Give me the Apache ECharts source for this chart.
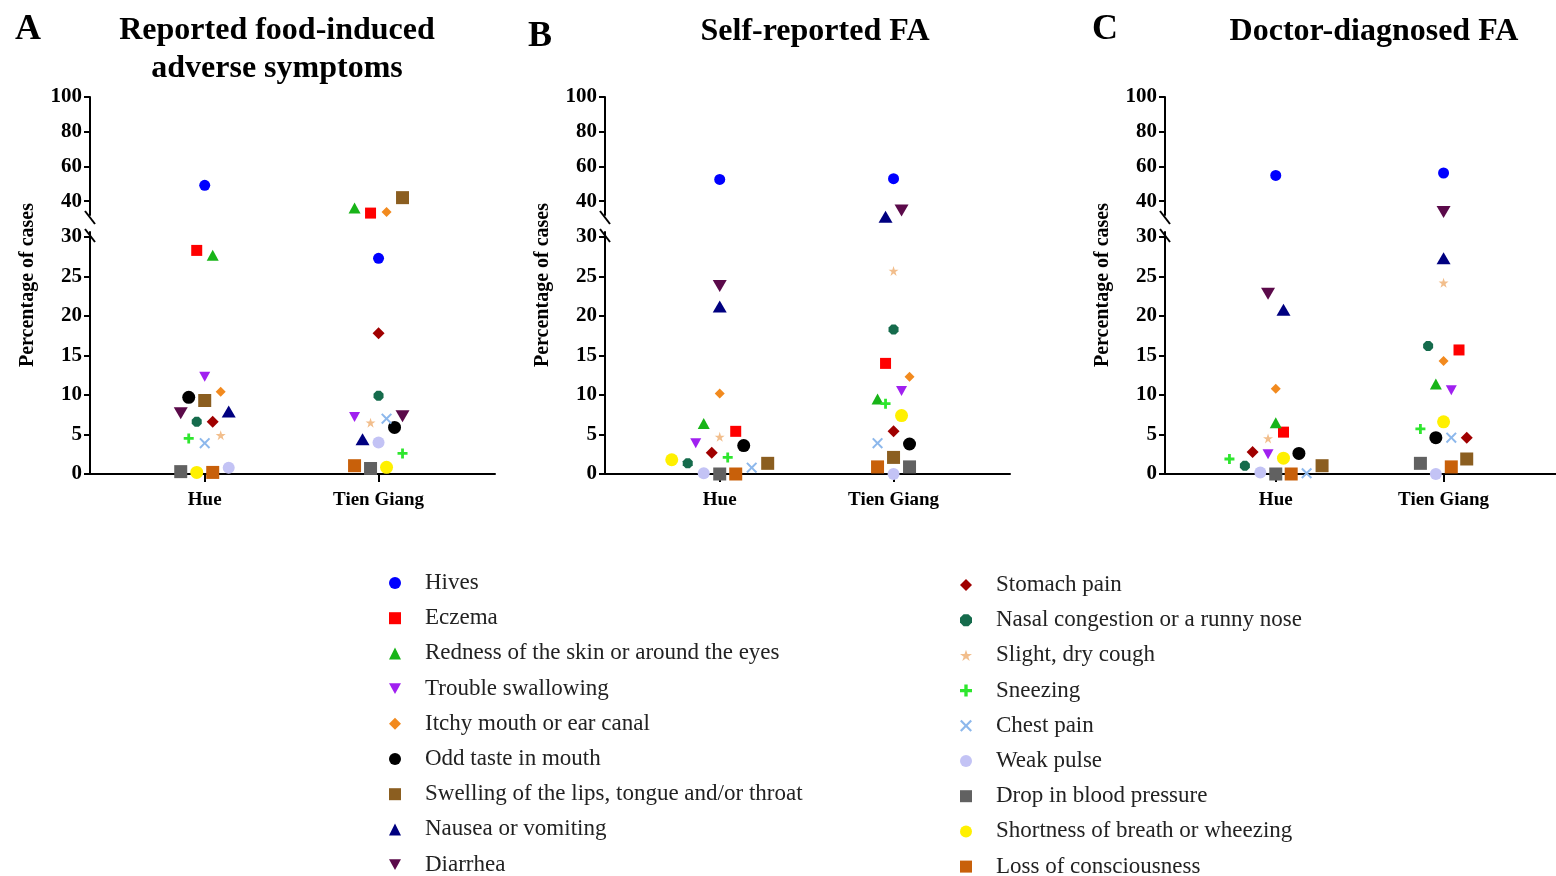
<!DOCTYPE html>
<html><head><meta charset="utf-8">
<script src="https://cdn.jsdelivr.net/npm/echarts@6/dist/echarts.min.js"></script>
<style>html,body{margin:0;padding:0;background:#fff}#c{width:1556px;height:876px}</style>
</head><body><div id="c"></div>
<script>
// ---------------- DATA ----------------
const sites = ['Hue', 'Tien Giang'];
const symptoms = [
  'Hives', 'Eczema', 'Redness of the skin or around the eyes', 'Trouble swallowing',
  'Itchy mouth or ear canal', 'Odd taste in mouth', 'Swelling of the lips, tongue and/or throat',
  'Nausea or vomiting', 'Diarrhea', 'Stomach pain', 'Nasal congestion or a runny nose',
  'Slight, dry cough', 'Sneezing', 'Chest pain', 'Weak pulse', 'Drop in blood pressure',
  'Shortness of breath or wheezing', 'Loss of consciousness'
];
const panelLetters = ['A', 'B', 'C'];
const panelTitles = ['Reported food-induced\nadverse symptoms', 'Self-reported FA', 'Doctor-diagnosed FA'];
const yAxisTitle = 'Percentage of cases';
const upperTicks = [40, 60, 80, 100];
const lowerTicks = [0, 5, 10, 15, 20, 25, 30];

// Percentage of cases, in symptom order
const reportedHue       = [49.1, 28.3, 27.7, 12.3, 10.4, 9.7, 9.3, 7.9, 7.7, 6.6, 6.6, 4.9, 4.5, 3.9, 0.8, 0.3, 0.2, 0.2];
const reportedTienGiang = [27.3, 33.1, 36.0, 7.2, 33.7, 5.9, 42.0, 4.4, 7.3, 17.8, 9.9, 6.5, 2.6, 7.0, 4.0, 0.7, 0.85, 1.05];
const selfHue           = [52.5, 5.4, 6.4, 3.9, 10.2, 3.6, 1.35, 21.2, 23.8, 2.7, 1.35, 4.7, 2.1, 0.8, 0.1, 0.0, 1.8, 0.0];
const selfTienGiang     = [52.9, 14.0, 9.5, 10.5, 12.3, 3.8, 2.1, 31.0, 34.6, 5.4, 18.3, 25.7, 8.9, 3.9, 0.0, 0.9, 7.4, 0.9];
const doctorHue         = [54.8, 5.3, 6.5, 2.5, 10.8, 2.6, 1.05, 20.8, 22.8, 2.8, 1.05, 4.5, 1.9, 0.1, 0.2, 0.0, 2.0, 0.0];
const doctorTienGiang   = [56.2, 15.7, 11.4, 10.6, 14.3, 4.6, 1.9, 27.3, 33.7, 4.6, 16.2, 24.2, 5.7, 4.6, 0.0, 1.35, 6.6, 0.9];

// ---------------- LAYOUT / STYLE ----------------
// horizontal spread of points around each site (in jitter steps)
const jitterReportedHue = [0, -1, 1, 0, 2, -2, 0, 3, -3, 1, -1, 2, -2, 0, 3, -3, -1, 1];
const jitterReportedTG  = [0, -1, -3, -3, 1, 2, 3, -2, 3, 0, 0, -1, 3, 1, 0, -1, 1, -3];
const jitterSelfHue     = [0, 2, -2, -3, 0, 3, 6, 0, 0, -1, -4, 0, 1, 4, -2, 0, -6, 2];
const jitterSelfTG      = [0, -1, -2, 1, 2, 2, 0, -1, 1, 0, 0, 0, -1, -2, 0, 2, 1, -2];
const jitterDoctorHue   = [0, 1, 0, -1, 0, 3, 6, 1, -1, -3, -4, -1, -6, 4, -2, 0, 1, 2];
const jitterDoctorTG    = [0, 2, -1, 1, 0, -1, 3, 0, 0, 3, -2, 0, -3, 1, -1, -3, 0, 1];
const JITTER_STEP = 0.046;
const BREAK_AT = 30.6;

const INV_TRI = 'path://M0,0L10,0L5,9Z';
const STAR = 'path://M5,0L6.2,3.6L10,3.6L6.9,5.8L8.1,9.5L5,7.2L1.9,9.5L3.1,5.8L0,3.6L3.8,3.6Z';
const PLUS = 'path://M3.6,0H6.4V3.6H10V6.4H6.4V10H3.6V6.4H0V3.6H3.6Z';
const CROSS = 'path://M1.3,0L5,3.7L8.7,0L10,1.3L6.3,5L10,8.7L8.7,10L5,6.3L1.3,10L0,8.7L3.7,5L0,1.3Z';
const OCT = 'path://M3,0H7L10,3V7L7,10H3L0,7V3Z';
const symbols = ['circle', 'rect', 'triangle', INV_TRI, 'diamond', 'circle', 'rect', 'triangle', INV_TRI,
  'diamond', OCT, STAR, PLUS, CROSS, 'circle', 'rect', 'circle', 'rect'];
const sizes = [11, 11, [12, 11], [11, 10], [10, 10], 13, 13, [14, 12], [14, 12], [12, 12], 10, 10, 10, 11, 12, 13, 13, 13];
const colors = ['#0000ff', '#ff0000', '#18b418', '#a020f0', '#f28a1e', '#000000', '#8b5e20', '#000080', '#5b0a4a',
  '#a00000', '#156b4c', '#f2be8c', '#2ee62e', '#8db8ec', '#c3c3f5', '#616161', '#fff000', '#c8600a'];

const SERIF = 'Liberation Serif';
const panelLeft = [90, 605, 1165];
const GRID_W = 405;
const UP_TOP = 97, UP_H = 118, LOW_TOP = 232, LOW_H = 242;

const panels = [
  [reportedHue, reportedTienGiang, jitterReportedHue, jitterReportedTG],
  [selfHue, selfTienGiang, jitterSelfHue, jitterSelfTG],
  [doctorHue, doctorTienGiang, jitterDoctorHue, jitterDoctorTG]
];

const grid = [], xAxis = [], yAxis = [], series = [], graphic = [];
const yLabelFont = { fontFamily: SERIF, fontWeight: 'bold', fontSize: 21, color: '#000' };
const xLabelFont = { fontFamily: SERIF, fontWeight: 'bold', fontSize: 19, color: '#000' };
const axisLine = { show: true, onZero: false, lineStyle: { color: '#000', width: 2 } };

panels.forEach((p, pi) => {
  const left = panelLeft[pi];
  grid.push({ left, width: GRID_W, top: UP_TOP, height: UP_H });
  grid.push({ left, width: GRID_W, top: LOW_TOP, height: LOW_H });
  // upper segment
  xAxis.push({ gridIndex: pi * 2, type: 'value', min: 0.34, max: 2.67, show: false });
  yAxis.push({ gridIndex: pi * 2, type: 'value', min: 32, max: 100, axisLine,
    splitLine: { show: false },
    axisTick: { show: true, length: 6, lineStyle: { width: 2, color: '#000' }, customValues: upperTicks },
    axisLabel: Object.assign({ margin: 8, customValues: upperTicks }, yLabelFont) });
  // lower segment
  xAxis.push({ gridIndex: pi * 2 + 1, type: 'value', min: 0.34, max: 2.67, axisLine,
    splitLine: { show: false },
    axisTick: { show: true, length: 8, lineStyle: { width: 2, color: '#000' }, customValues: [1, 2] },
    axisLabel: Object.assign({ margin: 17, customValues: [1, 2], formatter: v => sites[Math.round(v) - 1] }, xLabelFont) });
  yAxis.push({ gridIndex: pi * 2 + 1, type: 'value', min: 0, max: 30.63, axisLine,
    splitLine: { show: false },
    axisTick: { show: true, length: 6, lineStyle: { width: 2, color: '#000' }, customValues: lowerTicks },
    axisLabel: Object.assign({ margin: 8, customValues: lowerTicks }, yLabelFont) });

  symptoms.forEach((name, si) => {
    const lower = [], upper = [];
    [[p[0], p[2], 1], [p[1], p[3], 2]].forEach(([vals, jit, cat]) => {
      const pt = [cat + jit[si] * JITTER_STEP, vals[si]];
      (vals[si] > BREAK_AT ? upper : lower).push(pt);
    });
    const base = { type: 'scatter', name, symbol: symbols[si], symbolSize: sizes[si],
      itemStyle: { color: colors[si], opacity: 1 }, clip: false, z: 2 + si / 100,
      emphasis: { disabled: true } };
    if (lower.length) series.push(Object.assign({ xAxisIndex: pi * 2 + 1, yAxisIndex: pi * 2 + 1, data: lower }, base));
    if (upper.length) series.push(Object.assign({ xAxisIndex: pi * 2, yAxisIndex: pi * 2, data: upper }, base));
  });

  // axis break marks
  [[UP_TOP + UP_H - 4, UP_TOP + UP_H + 9], [LOW_TOP - 3, LOW_TOP + 10]].forEach(([y1, y2]) => {
    graphic.push({ type: 'line', shape: { x1: left - 5, y1, x2: left + 5, y2 },
      style: { stroke: '#000', lineWidth: 2 }, z: 10 });
  });
  // y axis title
  graphic.push({ type: 'text', x: left - 62, y: 285, rotation: Math.PI / 2,
    style: { text: yAxisTitle, font: 'bold 20px "Liberation Serif"', fill: '#000', textAlign: 'center', textVerticalAlign: 'middle' } });
});

// panel letters and titles
const letterPos = [[28, 30], [540, 37], [1105, 30]];
const titlePos = [[277, 50], [815, 32], [1374, 32]];
panelLetters.forEach((l, i) => {
  graphic.push({ type: 'text', x: letterPos[i][0], y: letterPos[i][1],
    style: { text: l, font: 'bold 36px "Liberation Serif"', fill: '#000', textAlign: 'center', textVerticalAlign: 'middle' } });
  graphic.push({ type: 'text', x: titlePos[i][0], y: titlePos[i][1],
    style: { text: panelTitles[i], font: 'bold 32px "Liberation Serif"', lineHeight: 38, fill: '#000', textAlign: 'center', textVerticalAlign: 'middle' } });
});

const legendText = { fontFamily: SERIF, fontSize: 23, color: '#222', lineHeight: 24, padding: [0, 0, 0, 19] };
const legend = [
  { data: symptoms.slice(0, 9), orient: 'vertical', left: 384, top: 566, height: 340, itemWidth: 12, itemHeight: 12,
    itemGap: 11.2, textStyle: legendText, selectedMode: false },
  { data: symptoms.slice(9), orient: 'vertical', left: 955, top: 568, height: 340, itemWidth: 12, itemHeight: 12,
    itemGap: 11.2, textStyle: legendText, selectedMode: false }
];

const chart = echarts.init(document.getElementById('c'), null, { renderer: 'canvas' });
chart.setOption({ animation: false, backgroundColor: '#fff', grid, xAxis, yAxis, series, legend, graphic });
</script>
</body></html>
